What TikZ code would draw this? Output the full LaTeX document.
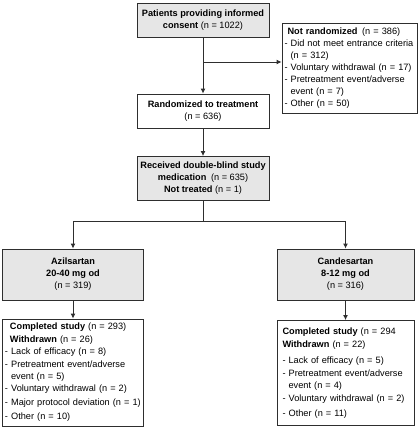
\documentclass[tikz,border=0pt]{standalone}
\usepackage{fontspec}
\setmainfont{Liberation Sans}
\usepackage{tikz}
\usetikzlibrary{arrows.meta}
\usetikzlibrary{positioning}
\definecolor{fc-line}{HTML}{2E2E2E}
\definecolor{fc-fill}{HTML}{E6E6E6}

\begin{document}
\begin{tikzpicture}[x=1pt, y=-1pt, >={Latex[length=5pt, width=5pt]},
    flowbox/.style={draw=fc-line, line width=0.9pt, align=center, inner sep=2pt, font=\fontsize{9.2}{12}\selectfont},
    shaded/.style={flowbox, fill=fc-fill},
    listbox/.style={flowbox, align=left, inner xsep=2.5pt},
    link/.style={fc-line, line width=0.9pt}]
    \useasboundingbox (0,0) rectangle (418,428);

    % Enrolment
    \node[shaded, minimum width=132pt, minimum height=34pt] (consent) at (203,20)
        {\textbf{Patients providing informed}\\\textbf{consent} (n = 1022)};
    \node[listbox, text width=130pt, minimum height=90pt] (notrand) at (349.5,68)
        {\hspace*{3pt}\textbf{Not randomized}\enspace(n = 386)\\
         - Did not meet entrance criteria\\
         \phantom{- }(n = 312)\\
         - Voluntary withdrawal (n = 17)\\
         - Pretreatment event/adverse\\
         \phantom{- }event (n = 7)\\
         - Other (n = 50)};

    % Randomization
    \node[flowbox, minimum width=132pt, minimum height=34pt] (rand) at (203,111)
        {\textbf{Randomized to treatment}\\(n = 636)};
    \node[shaded, minimum width=132pt, minimum height=44pt] (recv) at (203,178.5)
        {\textbf{Received double-blind study}\\\textbf{medication}\enspace(n = 635)\\\textbf{Not treated} (n = 1)};

    % Treatment arms
    \node[shaded, minimum width=141pt, minimum height=51pt] (azil) at (73,274.5)
        {\textbf{Azilsartan}\\\textbf{20-40 mg od}\\(n = 319)};
    \node[shaded, minimum width=137pt, minimum height=51pt] (cand) at (345.5,274.5)
        {\textbf{Candesartan}\\\textbf{8-12 mg od}\\(n = 316)};

    % Outcomes
    \node[listbox, text width=136pt, minimum height=107pt, font=\fontsize{9.2}{12.4}\selectfont] (azildone) at (73,372.5)
        {\hspace*{5pt}\textbf{Completed study} (n = 293)\\
         \hspace*{5pt}\textbf{Withdrawn} (n = 26)\\
         - Lack of efficacy (n = 8)\\
         - Pretreatment event/adverse\\
         \phantom{- }event (n = 5)\\
         - Voluntary withdrawal (n = 2)\\[1.5pt]
         - Major protocol deviation (n = 1)\\[1.5pt]
         - Other (n = 10)};
    \node[listbox, text width=126pt, inner xsep=5.5pt, minimum height=105pt, font=\fontsize{9.2}{12.6}\selectfont] (canddone) at (345.5,373)
        {\textbf{Completed study} (n = 294\\
         \textbf{Withdrawn} (n = 22)\\[4pt]
         - Lack of efficacy (n = 5)\\
         - Pretreatment event/adverse\\
         \phantom{- }event (n = 4)\\
         - Voluntary withdrawal (n = 2)\\[2pt]
         - Other (n = 11)};

    % Connections
    \coordinate (branch) at (203,62);
    \coordinate (split) at (203,221);
    \draw[link, ->] (consent) -- (rand);
    \draw[link, ->] (branch) -- (branch -| notrand.west);
    \draw[link, ->] (rand) -- (recv);
    \draw[link] (recv) -- (split);
    \draw[link, ->] (split) -| (azil.north);
    \draw[link, ->] (split) -| (cand.north);
    \draw[link, ->] (azil) -- (azildone);
    \draw[link, ->] (cand) -- (canddone);
\end{tikzpicture}
\end{document}
